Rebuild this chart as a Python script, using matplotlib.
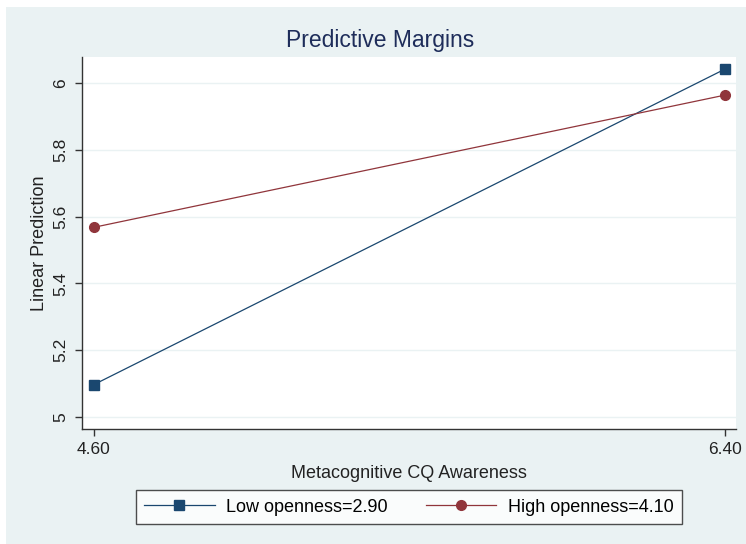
import matplotlib.pyplot as plt
from matplotlib.patches import Rectangle

# Predictive margins
awareness = [4.60, 6.40]
low_openness = [5.097, 6.042]
high_openness = [5.568, 5.964]
y_ticks = [5, 5.2, 5.4, 5.6, 5.8, 6]
y_tick_labels = ["5", "5.2", "5.4", "5.6", "5.8", "6"]
x_tick_labels = ["4.60", "6.40"]
series_labels = ["Low openness=2.90", "High openness=4.10"]

plt.rcParams["font.family"] = ["Liberation Sans", "DejaVu Sans"]

navy = "#1a476f"
maroon = "#90353b"
bg = "#eaf2f3"
text_col = "#222222"

fig = plt.figure(figsize=(7.46, 5.44), dpi=100, facecolor="white")
# light Stata-style background, leaving a thin white strip top/left
fig.patches.append(Rectangle((6 / 746, 0), 1, 1 - 7 / 544, transform=fig.transFigure,
                             facecolor=bg, edgecolor="none", zorder=-10))

ax = fig.add_axes([82 / 746, 1 - 429 / 544, (736 - 82) / 746, (429 - 57) / 544])
ax.set_facecolor("white")

ax.plot(awareness, low_openness, color=navy, lw=0.9, marker="s", ms=7,
        label=series_labels[0])
ax.plot(awareness, high_openness, color=maroon, lw=0.9, marker="o", ms=7,
        label=series_labels[1])

ax.set_xlim(4.566, 6.431)
ax.set_ylim(4.964, 6.078)
ax.set_xticks(awareness)
ax.set_xticklabels(x_tick_labels)
ax.set_yticks(y_ticks)
ax.set_yticklabels(y_tick_labels, rotation=90, va="center")

ax.grid(axis="y", color=bg, lw=1.0)
ax.set_axisbelow(True)

for side in ["top", "right"]:
    ax.spines[side].set_visible(False)
for side in ["left", "bottom"]:
    ax.spines[side].set_color("#333333")
    ax.spines[side].set_linewidth(1.0)
ax.tick_params(direction="out", length=5, width=1, color="#333333",
               labelsize=12.5, labelcolor=text_col)
ax.tick_params(axis="y", pad=5)
ax.tick_params(axis="x", pad=4)

ax.set_xlabel("Metacognitive CQ Awareness", fontsize=13, color=text_col, labelpad=6)
ax.set_ylabel("Linear Prediction", fontsize=13, color=text_col, labelpad=4)

fig.text(380 / 746, 1 - 40 / 544, "Predictive Margins", ha="center", va="center",
         fontsize=16.5, color="#1e2d5a")

leg = fig.legend(loc="center", bbox_to_anchor=(409 / 746, 1 - 507 / 544), ncol=2,
                 fontsize=13, frameon=True, fancybox=False, edgecolor="#222222",
                 handlelength=3.9, columnspacing=2.1, handletextpad=0.65,
                 borderpad=0.45, borderaxespad=0)
leg.get_frame().set_linewidth(1.0)
leg.get_frame().set_facecolor("white")

fig.savefig("out.png", dpi=100, facecolor=fig.get_facecolor())
